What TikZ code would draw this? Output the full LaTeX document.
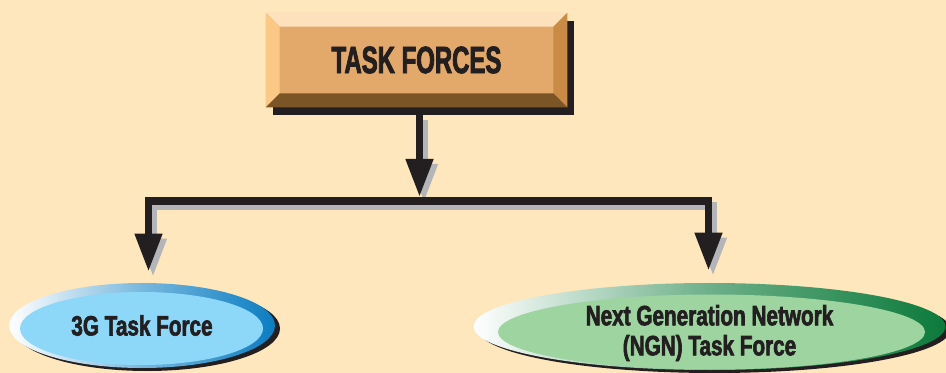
\documentclass[tikz,border=0pt]{standalone}
\usepackage{fontspec}
\setmainfont{Liberation Sans}[FakeStretch=0.74, BoldFeatures={FakeBold=2.2}]
\newfontfamily\headfont{Liberation Sans}[FakeStretch=0.63, BoldFeatures={FakeBold=2.2}]
\usetikzlibrary{arrows.meta, shapes.geometric, shadows}

\definecolor{paper}{HTML}{FEE7BC}
\definecolor{ink}{HTML}{231F20}
\definecolor{linkgray}{HTML}{B3B5B8}
\definecolor{face}{HTML}{E3A96A}
\definecolor{bevtop}{HTML}{FDE0BC}
\definecolor{bevleft}{HTML}{FCC885}
\definecolor{bevright}{HTML}{C98B45}
\definecolor{bevbottom}{HTML}{7C5526}
\definecolor{ringblue}{HTML}{0A7DC2}
\definecolor{sky}{HTML}{8DD8F8}
\definecolor{ringgreen}{HTML}{0B7A3A}
\definecolor{leaf}{HTML}{9DD4A0}

\tikzset{
	link/.style = {line width = 3.75pt, -{Triangle[width = 13pt, length = 19pt]}},
	taskbox/.style = {rectangle, inner sep = 0pt, fill = face, text = ink,
		minimum width = 150.5pt, minimum height = 47pt,
		font = \headfont\bfseries\fontsize{19}{20}\selectfont,
		drop shadow = {shadow xshift = 3.5pt, shadow yshift = -4pt, fill = ink, opacity = 1}},
	oval/.style = {ellipse, inner sep = 0pt, text = ink, align = center,
		font = \bfseries\fontsize{14}{15}\selectfont,
		drop shadow = {shadow xshift = 2.5pt, shadow yshift = -1.5pt, fill = ink, opacity = 1}},
	blueoval/.style = {oval, minimum width = 133pt, minimum height = 42.5pt,
		left color = white, right color = ringblue, middle color = ringblue!55,
		path picture = {\fill [sky] ([shift = {(-0.25pt, -1.5pt)}] path picture bounding box.center)
			ellipse [x radius = 60.75pt, y radius = 18.25pt];}},
	greenoval/.style = {oval, minimum width = 236pt, minimum height = 43.5pt,
		left color = white, right color = ringgreen, middle color = ringgreen!60,
		path picture = {\fill [leaf] ([shift = {(1pt, -2.75pt)}] path picture bounding box.center)
			ellipse [x radius = 106.75pt, y radius = 18.75pt];}}
}

\begin{document}
\begin{tikzpicture}[x = 0.5pt, y = -0.5pt]

	% Definitions

	\def\bevel{7pt}		% Width of the raised edge round the title box

	% Background, fixes the page size

	\fill [paper] (0, 0) rectangle (946, 373);
	\useasboundingbox (0, 0) rectangle (946, 373);


	% Title box with bevelled edges

	\node [taskbox] (tf) at (416.5, 60) {TASK FORCES};

	\coordinate (tfnw) at ([shift = {(\bevel, -\bevel)}] tf.north west);
	\coordinate (tfne) at ([shift = {(-\bevel, -\bevel)}] tf.north east);
	\coordinate (tfsw) at ([shift = {(\bevel, \bevel)}] tf.south west);
	\coordinate (tfse) at ([shift = {(-\bevel, \bevel)}] tf.south east);

	\fill [bevtop] (tf.north west) -- (tf.north east) -- (tfne) -- (tfnw) -- cycle;
	\fill [bevleft] (tf.north west) -- (tfnw) -- (tfsw) -- (tf.south west) -- cycle;
	\fill [bevright] (tf.north east) -- (tfne) -- (tfse) -- (tf.south east) -- cycle;
	\fill [bevbottom] (tf.south west) -- (tfsw) -- (tfse) -- (tf.south east) -- cycle;


	% Task force ovals

	\node [blueoval] (g3) at (142, 325.5) {3G Task Force};
	\node [greenoval] (ngn) at (709.5, 326.5)
		{\raisebox{-7.5pt}[0pt][0pt]{\begin{tabular}{@{}c@{}}Next Generation Network\\(NGN) Task Force\end{tabular}}};


	% Connectors: grey offset copy first, then the black one on top

	\coordinate (hub) at (419.5, 201);
	\coordinate (stem) at ([yshift = -4pt] tf.south -| hub);

	\foreach \col/\dx/\dy in {linkgray/2.25pt/-2.5pt, ink/0pt/0pt}
	{
		\begin{scope}[transform canvas = {shift = {(\dx, \dy)}}, draw = \col, fill = \col]
			\draw [link, shorten > = 2pt] (stem) -- (hub);
			\draw [link, shorten > = 5.5pt] (hub) -| ([xshift = 3.25pt] g3.north);
			\draw [link, shorten > = 6pt] (hub) -| ([xshift = -0.5pt] ngn.north);
		\end{scope}
	}

\end{tikzpicture}
\end{document}
